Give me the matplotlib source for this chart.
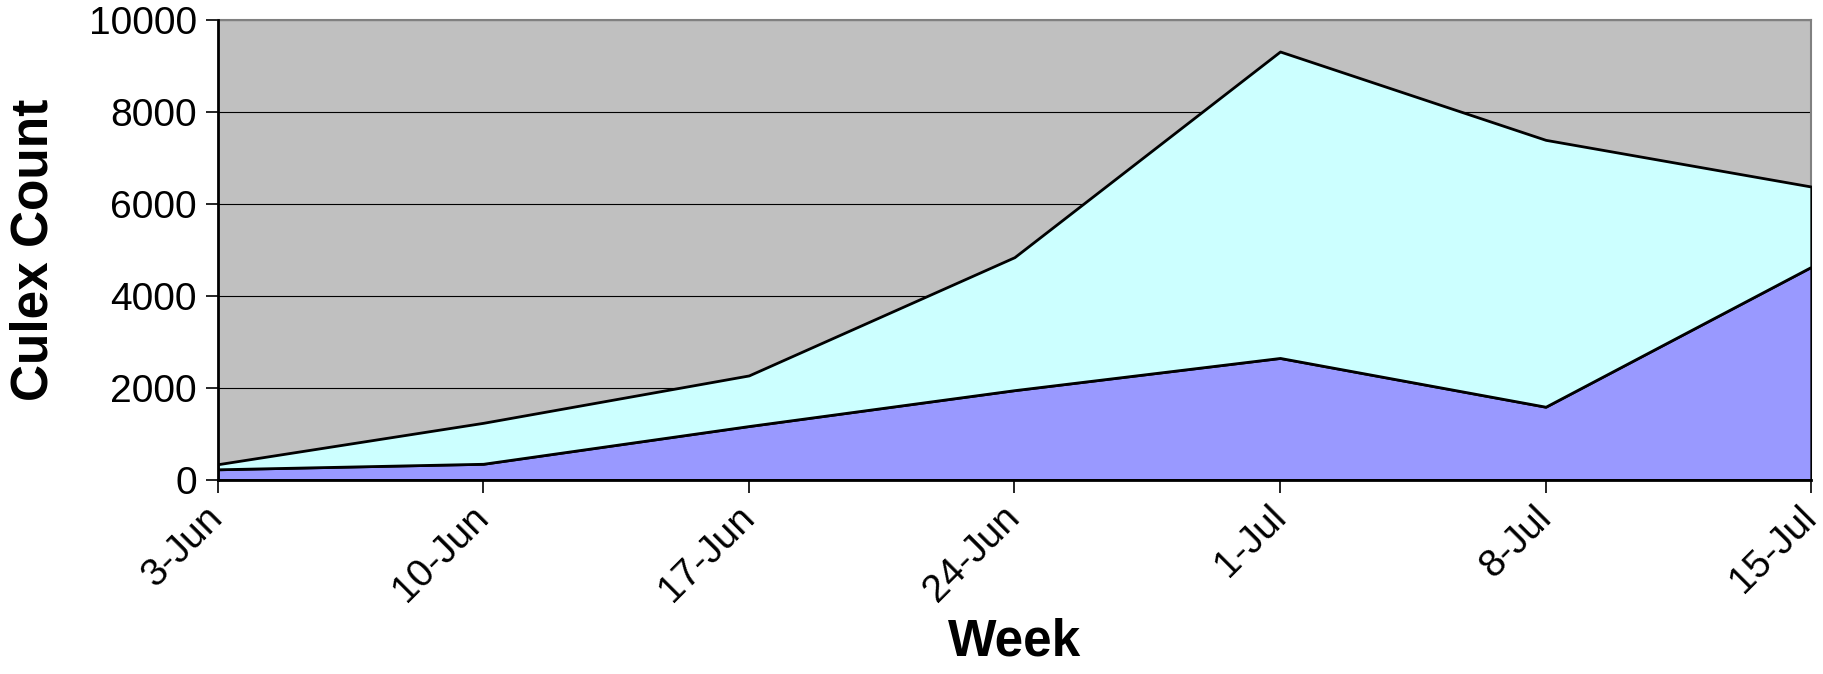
import numpy as np
import matplotlib
matplotlib.use("Agg")
import matplotlib.pyplot as plt

# weekly culex counts (stacked area)
weeks = ["3-Jun", "10-Jun", "17-Jun", "24-Jun", "1-Jul", "8-Jul", "15-Jul"]
series_low = [230, 350, 1170, 1950, 2650, 1590, 4630]
series_high = [110, 890, 1100, 2890, 6660, 5800, 1745]

plt.rcParams['font.family'] = ['Liberation Sans', 'DejaVu Sans']

fig = plt.figure(figsize=(18.24, 6.74), dpi=100)
ax = fig.add_axes([0.1193, 0.288, 0.8737, 0.6827])
ax.set_facecolor('#C0C0C0')

x = np.arange(len(weeks))
ax.stackplot(x, series_low, series_high, colors=['#9999FF', '#CCFFFF'],
             edgecolor='black', linewidth=2, zorder=3)

ax.set_xlim(0, len(weeks) - 1)
ax.set_ylim(0, 10000)
ax.set_yticks(np.arange(0, 10001, 2000))
ax.yaxis.grid(True, color='black', linewidth=0.8, zorder=1)
ax.set_axisbelow(True)

ax.set_xticks(x)
ax.set_xticklabels(weeks, rotation=45, ha='right', va='center', rotation_mode='anchor')
ax.tick_params(axis='both', labelsize=28, length=9, width=1.2, direction='out')
ax.tick_params(axis='x', pad=14)
ax.tick_params(axis='y', pad=6)

for side in ['top', 'right']:
    ax.spines[side].set_color('#808080')
    ax.spines[side].set_linewidth(1.5)
for side in ['left', 'bottom']:
    ax.spines[side].set_color('black')
    ax.spines[side].set_linewidth(2)
    ax.spines[side].set_zorder(5)

ax.set_ylabel("Culex Count", fontsize=37, fontweight='bold', labelpad=22)
ax.set_xlabel("Week", fontsize=37, fontweight='bold', labelpad=6)

fig.savefig("out.png", dpi=100)
